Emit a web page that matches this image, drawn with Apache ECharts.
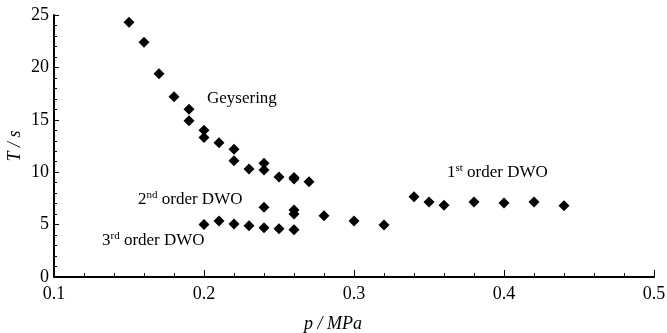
<!DOCTYPE html>
<html>
<head>
<meta charset="utf-8">
<script src="https://cdn.jsdelivr.net/npm/echarts@6/dist/echarts.min.js"></script>
<style>
  html, body { margin: 0; padding: 0; background: #fff; }
  #EChart { width: 667px; height: 333px; }
</style>
</head>
<body>
<div id="EChart"></div>
<script>
// p / MPa
var pressure = [0.15, 0.16, 0.17, 0.18, 0.19, 0.19, 0.20, 0.20, 0.20, 0.21, 0.21, 0.22, 0.22, 0.22,
  0.23, 0.23, 0.24, 0.24, 0.24, 0.24, 0.25, 0.25, 0.26, 0.26, 0.26, 0.26, 0.26, 0.27, 0.28,
  0.30, 0.32, 0.34, 0.35, 0.36, 0.38, 0.40, 0.42, 0.44];
// T / s
var period = [24.3, 22.4, 19.4, 17.2, 16.0, 14.9, 14.0, 13.3, 5.0, 12.8, 5.35, 12.2, 11.1, 5.05,
  10.3, 4.9, 10.85, 10.2, 6.65, 4.7, 9.55, 4.6, 9.5, 9.35, 6.4, 6.0, 4.5, 9.1, 5.85,
  5.35, 4.95, 7.65, 7.15, 6.85, 7.15, 7.05, 7.15, 6.8];

var xTicks = ['0.1', '0.2', '0.3', '0.4', '0.5'];
var yTicks = ['0', '5', '10', '15', '20', '25'];

var font = 'Liberation Serif';

var points = pressure.map(function (p, i) { return [p, period[i]]; });

var richLabel = {
    n: { fontFamily: font, fontSize: 17, lineHeight: 20, verticalAlign: 'middle', fill: '#000' },
    s: { fontFamily: font, fontSize: 11, lineHeight: 14, verticalAlign: 'top', fill: '#000' }
};

function note(x, y, text) {
    return {
        type: 'text',
        left: x,
        top: y,
        style: { text: text, rich: richLabel, fill: '#000', font: '17px ' + font }
    };
}

var axisLineStyle = { color: '#000', width: 2 };

var config = {
    animation: false,
    backgroundColor: '#fff',
    grid: { left: 54, right: 13, top: 15, bottom: 56, containLabel: false, outerBoundsMode: 'none' },
    xAxis: {
        type: 'value',
        min: 0.1,
        max: 0.5,
        interval: 0.1,
        name: 'p / MPa',
        nameLocation: 'middle',
        nameGap: 38,
        nameMoveOverlap: false,
        nameTextStyle: { fontFamily: font, fontStyle: 'italic', fontSize: 18, color: '#000', padding: [0, 42, 0, 0] },
        axisLine: { show: true, lineStyle: axisLineStyle },
        axisTick: { show: true, inside: true, length: 7, lineStyle: { color: '#000', width: 1 } },
        minorTick: { show: true, splitNumber: 5, length: 4, lineStyle: { color: '#000', width: 1 } },
        axisLabel: {
            fontFamily: font, fontSize: 18, color: '#000', margin: 8,
            formatter: function (v) { return xTicks[Math.round((v - 0.1) * 10)]; }
        },
        splitLine: { show: false }
    },
    yAxis: {
        type: 'value',
        min: 0,
        max: 25,
        interval: 5,
        name: 'T / s',
        nameLocation: 'middle',
        nameGap: 30,
        nameRotate: 90,
        nameMoveOverlap: false,
        nameTextStyle: { fontFamily: font, fontStyle: 'italic', fontSize: 18, color: '#000' },
        axisLine: { show: true, lineStyle: axisLineStyle },
        axisTick: { show: true, inside: true, length: 5, lineStyle: { color: '#000', width: 1 } },
        minorTick: { show: true, splitNumber: 5, length: 3, lineStyle: { color: '#000', width: 1 } },
        axisLabel: {
            fontFamily: font, fontSize: 18, color: '#000', margin: 5,
            formatter: function (v) { return yTicks[Math.round(v / 5)]; }
        },
        splitLine: { show: false }
    },
    series: [{
        type: 'scatter',
        data: points,
        symbol: 'diamond',
        symbolSize: 11,
        itemStyle: { color: '#000', opacity: 1 }
    }],
    graphic: [
        note(207, 90, '{n|Geysering}'),
        note(138, 190, '{n|2}{s|nd}{n| order DWO}'),
        note(102, 231, '{n|3}{s|rd}{n| order DWO}'),
        note(447, 163, '{n|1}{s|st}{n| order DWO}')
    ]
};

var EChart = echarts.init(document.getElementById('EChart'));
EChart.setOption(config);
</script>
</body>
</html>
